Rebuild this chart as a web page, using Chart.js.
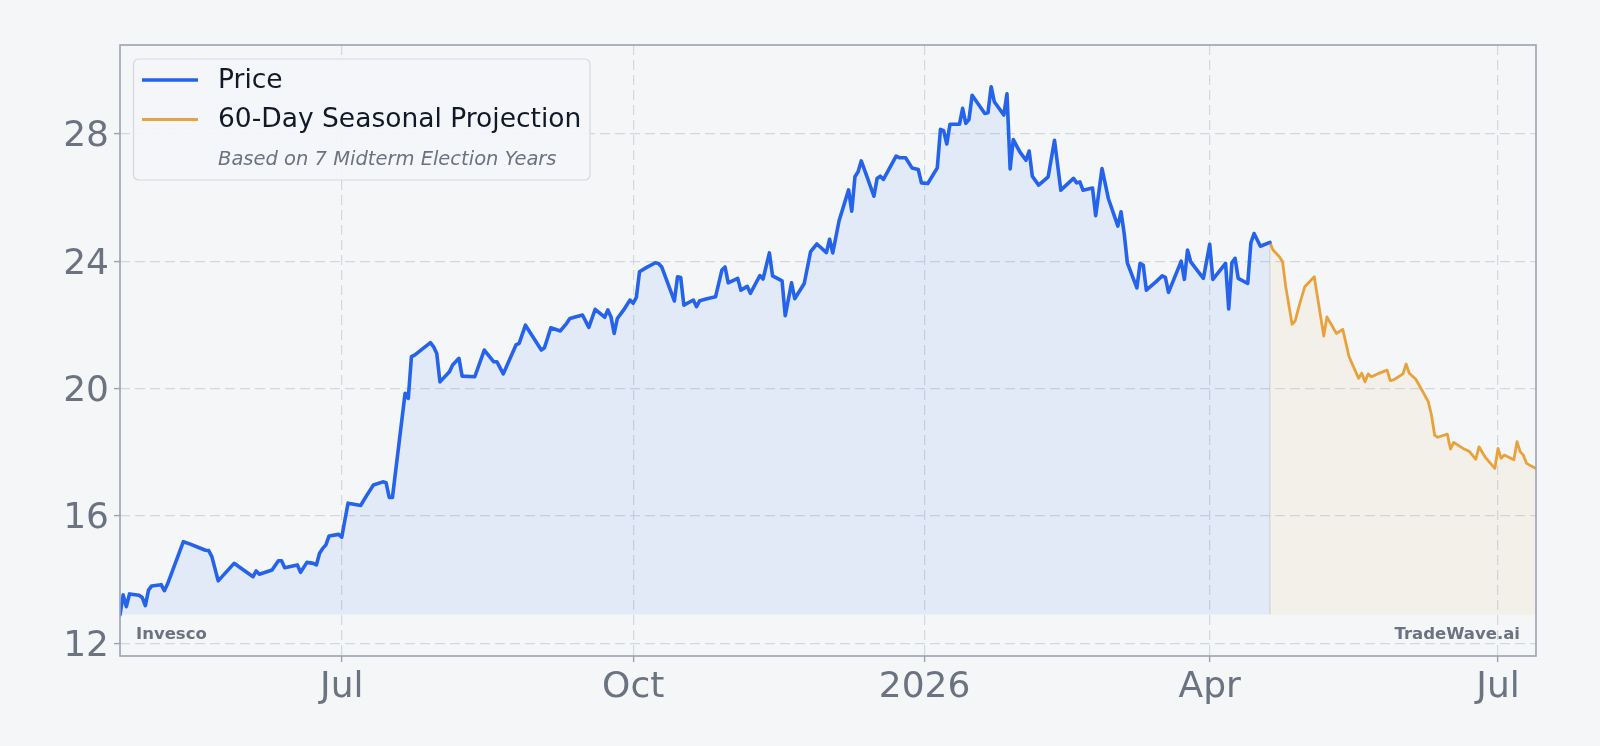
<!DOCTYPE html>
<html><head><meta charset="utf-8">
<script src="https://cdn.jsdelivr.net/npm/chart.js@4.4.1/dist/chart.umd.min.js"></script>
<style>html,body{margin:0;padding:0;background:#f4f6f8;}canvas{display:block;}</style>
</head><body>
<canvas id="c" width="1600" height="746"></canvas>
<script>
const priceDates = ['2025-04-22','2025-04-23','2025-04-24','2025-04-25','2025-04-28','2025-04-29','2025-04-30','2025-05-01','2025-05-02','2025-05-05','2025-05-06','2025-05-07','2025-05-12','2025-05-14','2025-05-17','2025-05-19','2025-05-20','2025-05-21','2025-05-23','2025-05-28','2025-05-31','2025-06-03','2025-06-04','2025-06-05','2025-06-09','2025-06-11','2025-06-12','2025-06-13','2025-06-17','2025-06-18','2025-06-20','2025-06-22','2025-06-23','2025-06-24','2025-06-25','2025-06-26','2025-06-27','2025-06-30','2025-07-01','2025-07-02','2025-07-03','2025-07-07','2025-07-08','2025-07-09','2025-07-11','2025-07-14','2025-07-15','2025-07-16','2025-07-17','2025-07-21','2025-07-22','2025-07-23','2025-07-24','2025-07-29','2025-07-30','2025-07-31','2025-08-01','2025-08-04','2025-08-05','2025-08-07','2025-08-08','2025-08-12','2025-08-15','2025-08-18','2025-08-19','2025-08-21','2025-08-25','2025-08-26','2025-08-28','2025-09-02','2025-09-03','2025-09-05','2025-09-08','2025-09-10','2025-09-11','2025-09-15','2025-09-17','2025-09-19','2025-09-22','2025-09-23','2025-09-24','2025-09-25','2025-09-26','2025-09-28','2025-09-30','2025-10-01','2025-10-02','2025-10-03','2025-10-05','2025-10-08','2025-10-09','2025-10-10','2025-10-14','2025-10-15','2025-10-16','2025-10-17','2025-10-20','2025-10-21','2025-10-22','2025-10-24','2025-10-27','2025-10-29','2025-10-30','2025-10-31','2025-11-03','2025-11-04','2025-11-06','2025-11-07','2025-11-10','2025-11-11','2025-11-13','2025-11-14','2025-11-17','2025-11-18','2025-11-20','2025-11-21','2025-11-24','2025-11-26','2025-11-28','2025-12-01','2025-12-02','2025-12-03','2025-12-05','2025-12-08','2025-12-09','2025-12-10','2025-12-11','2025-12-12','2025-12-14','2025-12-16','2025-12-17','2025-12-18','2025-12-19','2025-12-23','2025-12-24','2025-12-26','2025-12-28','2025-12-30','2025-12-31','2026-01-02','2026-01-05','2026-01-06','2026-01-07','2026-01-08','2026-01-09','2026-01-12','2026-01-13','2026-01-14','2026-01-15','2026-01-16','2026-01-20','2026-01-21','2026-01-22','2026-01-23','2026-01-26','2026-01-27','2026-01-28','2026-01-29','2026-01-31','2026-02-02','2026-02-03','2026-02-04','2026-02-06','2026-02-09','2026-02-11','2026-02-13','2026-02-17','2026-02-18','2026-02-19','2026-02-20','2026-02-23','2026-02-24','2026-02-26','2026-02-28','2026-03-03','2026-03-04','2026-03-05','2026-03-06','2026-03-09','2026-03-10','2026-03-11','2026-03-12','2026-03-15','2026-03-17','2026-03-18','2026-03-19','2026-03-23','2026-03-24','2026-03-25','2026-03-26','2026-03-30','2026-04-01','2026-04-02','2026-04-06','2026-04-07','2026-04-08','2026-04-09','2026-04-10','2026-04-13','2026-04-14','2026-04-15','2026-04-17','2026-04-20'];
const priceValues = [12.90,13.52,13.15,13.55,13.51,13.44,13.18,13.67,13.80,13.84,13.65,13.86,15.19,15.12,15.00,14.92,14.91,14.72,13.96,14.51,14.30,14.09,14.27,14.17,14.30,14.59,14.59,14.37,14.46,14.23,14.54,14.51,14.46,14.83,14.98,15.09,15.37,15.42,15.33,15.87,16.40,16.33,16.50,16.66,16.97,17.07,17.04,16.58,16.58,19.85,19.69,21.00,21.05,21.44,21.31,21.10,20.21,20.53,20.74,20.95,20.39,20.37,21.21,20.84,20.84,20.46,21.37,21.42,21.99,21.21,21.28,21.91,21.81,22.05,22.20,22.31,21.92,22.49,22.24,22.47,22.25,21.73,22.20,22.47,22.78,22.68,22.86,23.67,23.79,23.95,23.93,23.82,22.75,23.51,23.49,22.62,22.78,22.57,22.76,22.81,22.88,23.72,23.82,23.32,23.46,23.09,23.21,22.99,23.55,23.44,24.26,23.54,23.38,22.29,23.32,22.82,23.30,24.30,24.54,24.27,24.69,24.26,25.27,26.24,25.57,26.65,26.81,27.15,26.60,26.04,26.60,26.67,26.57,27.30,27.25,27.25,26.93,26.88,26.46,26.44,26.93,28.14,28.10,27.68,28.30,28.30,28.80,28.33,28.45,29.21,28.64,28.66,29.48,29.01,28.59,29.26,26.90,27.82,27.44,27.17,27.46,26.67,26.39,26.65,27.80,26.23,26.60,26.46,26.49,26.23,26.30,25.43,26.91,25.97,25.10,25.55,24.87,23.95,23.16,23.93,23.88,23.09,23.35,23.54,23.49,23.02,24.00,23.43,24.35,23.98,23.46,24.53,23.43,23.93,22.50,23.95,24.09,23.46,23.30,24.58,24.87,24.47,24.59];
const projDates = ['2026-04-20','2026-04-21','2026-04-23','2026-04-24','2026-04-25','2026-04-27','2026-04-28','2026-04-29','2026-05-01','2026-05-04','2026-05-07','2026-05-08','2026-05-11','2026-05-13','2026-05-15','2026-05-18','2026-05-19','2026-05-20','2026-05-21','2026-05-22','2026-05-24','2026-05-27','2026-05-28','2026-05-29','2026-06-01','2026-06-02','2026-06-03','2026-06-05','2026-06-07','2026-06-09','2026-06-10','2026-06-11','2026-06-12','2026-06-15','2026-06-16','2026-06-17','2026-06-20','2026-06-22','2026-06-24','2026-06-25','2026-06-27','2026-06-30','2026-07-01','2026-07-02','2026-07-03','2026-07-06','2026-07-07','2026-07-08','2026-07-09','2026-07-10','2026-07-13'];
const projValues = [24.59,24.35,24.14,23.98,23.20,22.02,22.13,22.52,23.20,23.51,21.65,22.25,21.73,21.86,21.00,20.32,20.48,20.21,20.46,20.37,20.46,20.58,20.25,20.27,20.46,20.77,20.48,20.30,19.95,19.59,19.17,18.54,18.47,18.57,18.10,18.31,18.12,18.02,17.78,18.17,17.84,17.49,18.12,17.81,17.91,17.76,18.33,18.02,17.91,17.65,17.49];
const yTicks = [12, 16, 20, 24, 28];
const xTickDates = ['2025-07-01','2025-10-01','2026-01-01','2026-04-01','2026-07-01'];
const xTickLabels = ['Jul','Oct','2026','Apr','Jul'];
const seriesNames = ['Price','60-Day Seasonal Projection'];
const legendNote = 'Based on 7 Midterm Election Years';
const watermarkLeft = 'Invesco';
const watermarkRight = 'TradeWave.ai';

const FONT = '"DejaVu Sans", "Liberation Sans", sans-serif';
const BLUE = '#2563eb', ORANGE = '#e9a23b', GREY = '#6b7280';
const toDay = s => Date.UTC(+s.slice(0,4), +s.slice(5,7)-1, +s.slice(8,10)) / 864e5;
const fillBase = Math.min(...priceValues);
const pricePts = priceDates.map((d,i) => ({x: toDay(d), y: priceValues[i]}));
const projPts = projDates.map((d,i) => ({x: toDay(d), y: projValues[i]}));

const bgPlugin = {
  id: 'bg',
  beforeDraw(chart) {
    const ctx = chart.ctx;
    ctx.save();
    ctx.fillStyle = '#f4f6f8';
    ctx.fillRect(0, 0, chart.width, chart.height);
    const a = chart.chartArea;
    ctx.fillStyle = '#f5f6f8';
    ctx.fillRect(a.left, a.top, a.right - a.left, a.bottom - a.top);
    ctx.restore();
  }
};

const overlayPlugin = {
  id: 'overlay',
  afterDatasetsDraw(chart) {
    const ctx = chart.ctx, a = chart.chartArea;
    const xs = chart.scales.x, ys = chart.scales.y;
    ctx.save();
    const sx = xs.getPixelForValue(projPts[0].x);
    ctx.strokeStyle = 'rgba(156,163,175,0.35)';
    ctx.lineWidth = 1.2;
    ctx.beginPath();
    ctx.moveTo(sx, ys.getPixelForValue(projPts[0].y));
    ctx.lineTo(sx, ys.getPixelForValue(fillBase));
    ctx.stroke();
    ctx.strokeStyle = '#9ca3af';
    ctx.lineWidth = 1.6;
    ctx.strokeRect(a.left, a.top, a.right - a.left, a.bottom - a.top);
    ctx.fillStyle = GREY;
    ctx.font = 'bold 16.5px ' + FONT;
    ctx.textBaseline = 'middle';
    ctx.textAlign = 'left';
    ctx.fillText(watermarkLeft, a.left + 16, 635);
    ctx.textAlign = 'right';
    ctx.fillText(watermarkRight, a.right - 16, 635);
    ctx.beginPath();
    ctx.roundRect(133.5, 59, 456.5, 121, 5);
    ctx.fillStyle = 'rgba(245,246,248,0.9)';
    ctx.fill();
    ctx.strokeStyle = '#d4d8de';
    ctx.lineWidth = 1.2;
    ctx.stroke();
    const ds = chart.data.datasets;
    const rows = [80, 119.5];
    ds.forEach((d, i) => {
      ctx.strokeStyle = d.borderColor;
      ctx.lineWidth = d.borderWidth;
      ctx.lineCap = 'butt';
      ctx.beginPath();
      ctx.moveTo(142, rows[i]);
      ctx.lineTo(198, rows[i]);
      ctx.stroke();
      ctx.fillStyle = '#111827';
      ctx.font = '26.5px ' + FONT;
      ctx.textAlign = 'left';
      ctx.textBaseline = 'middle';
      ctx.fillText(d.label, 218, rows[i] + 1);
    });
    ctx.fillStyle = GREY;
    ctx.font = 'italic 19.5px ' + FONT;
    ctx.fillText(legendNote, 218, 160);
    ctx.restore();
  }
};

new Chart(document.getElementById('c'), {
  type: 'line',
  data: {
    datasets: [
      { label: seriesNames[0], data: pricePts, borderColor: BLUE, borderWidth: 3.6,
        backgroundColor: 'rgba(59,130,246,0.10)', fill: {value: fillBase},
        pointRadius: 0, tension: 0, borderJoinStyle: 'round', borderCapStyle: 'round' },
      { label: seriesNames[1], data: projPts, borderColor: ORANGE, borderWidth: 2.8,
        backgroundColor: 'rgba(233,162,59,0.08)', fill: {value: fillBase},
        pointRadius: 0, tension: 0, borderJoinStyle: 'round', borderCapStyle: 'round' }
    ]
  },
  options: {
    responsive: false,
    animation: false,
    devicePixelRatio: 1,
    layout: { padding: { left: 0, right: 64, top: 45, bottom: 0 } },
    plugins: { legend: { display: false }, tooltip: { enabled: false } },
    scales: {
      x: {
        type: 'linear',
        min: toDay(priceDates[0]),
        max: toDay(projDates[projDates.length - 1]),
        afterFit: s => { s.height = 90; },
        afterBuildTicks: s => { s.ticks = xTickDates.map(d => ({value: toDay(d)})); },
        ticks: {
          autoSkip: false, maxRotation: 0, padding: 4,
          color: GREY, font: { family: FONT, size: 36 },
          callback: (v, i) => xTickLabels[i]
        },
        grid: { color: 'rgba(203,208,215,0.8)', lineWidth: 1.2, tickLength: 6, tickColor: '#9ca3af', tickWidth: 1.4 },
        border: { display: false, dash: [10, 5] }
      },
      y: {
        type: 'linear',
        min: 11.6,
        max: 30.79,
        afterFit: s => { s.width = 120; },
        afterBuildTicks: s => { s.ticks = yTicks.map(v => ({value: v})); },
        ticks: {
          padding: 5, labelOffset: 3, color: GREY, font: { family: FONT, size: 36 },
          callback: v => String(v)
        },
        grid: { color: 'rgba(203,208,215,0.8)', lineWidth: 1.2, tickLength: 6, tickColor: '#9ca3af', tickWidth: 1.4 },
        border: { display: false, dash: [10, 5] }
      }
    }
  },
  plugins: [bgPlugin, overlayPlugin]
});
</script>
</body></html>
